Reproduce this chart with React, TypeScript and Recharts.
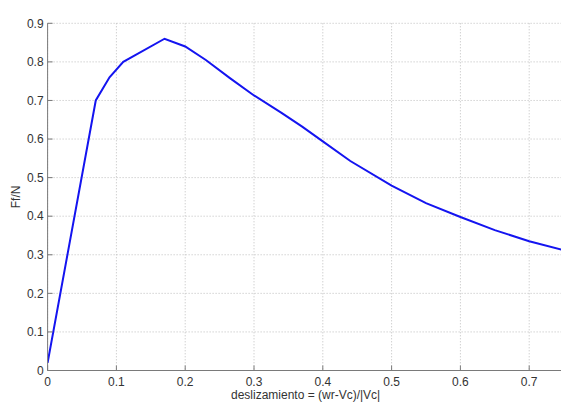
import React from 'react';
import { LineChart, Line, XAxis, YAxis, CartesianGrid, Label } from 'recharts';

const slip = [0, 0.07, 0.09, 0.11, 0.17, 0.2, 0.23, 0.265, 0.3, 0.34, 0.37, 0.4, 0.44, 0.5, 0.55, 0.6, 0.65, 0.7, 0.75];
const ffn = [0.02, 0.7, 0.76, 0.8, 0.86, 0.84, 0.805, 0.758, 0.713, 0.668, 0.632, 0.594, 0.543, 0.479, 0.434, 0.398, 0.364, 0.335, 0.312];
const xTicks = [0, 0.1, 0.2, 0.3, 0.4, 0.5, 0.6, 0.7];
const yTicks = [0, 0.1, 0.2, 0.3, 0.4, 0.5, 0.6, 0.7, 0.8, 0.9];
const title = 'Ff/N v.s. deslizamiento';
const xTitle = 'deslizamiento = (wr-Vc)/|Vc|';
const yTitle = 'Ff/N';

const data = slip.map((s, i) => ({ s, f: ffn[i] }));

const W = 564;
const H = 402;
const LEFT = 47.6;
const TOP = 23.3;
const BOTTOM_H = 31.5;
const AXIS_Y = H - BOTTOM_H;
const TEXT = '#333';
const AXIS = '#7a7a7a';
const FONT = 'Liberation Sans, Arial, sans-serif';

const YTick = (props: any) => {
  const { y, payload } = props;
  return (
    <g>
      <line x1={LEFT} x2={LEFT + 5} y1={y} y2={y} stroke={AXIS} />
      <text x={LEFT - 4} y={y} dy="0.35em" textAnchor="end" fontSize={12} fill={TEXT} fontFamily={FONT}>
        {String(payload.value)}
      </text>
    </g>
  );
};

const XTick = (props: any) => {
  const { x, payload } = props;
  return (
    <g>
      <line x1={x} x2={x} y1={AXIS_Y} y2={AXIS_Y - 5} stroke={AXIS} />
      <text x={x} y={AXIS_Y + 15} textAnchor="middle" fontSize={12} fill={TEXT} fontFamily={FONT}>
        {String(payload.value)}
      </text>
    </g>
  );
};

const TopTick = (props: any) => {
  const { x } = props;
  return <line x1={x} x2={x} y1={TOP} y2={TOP + 5} stroke={AXIS} />;
};

export default function App() {
  return (
    <div style={{ position: 'absolute', left: 0, top: 0, width: 561, height: 402, overflow: 'hidden', background: '#fff' }}>
      <LineChart width={W} height={H} data={data} margin={{ top: TOP, right: 0.4, bottom: 0, left: 0 }}>
        <CartesianGrid stroke="#bdbdbd" strokeDasharray="1 2" xAxisId="bottom" yAxisId="left" />
        <XAxis
          xAxisId="bottom"
          dataKey="s"
          type="number"
          domain={[0, 0.75]}
          ticks={xTicks}
          allowDataOverflow
          height={BOTTOM_H}
          stroke={AXIS}
          tickLine={false}
          tick={<XTick />}
          interval={0}
        >
          <Label
            content={(p: any) => {
              const vb = p.viewBox;
              return (
                <text x={vb.x + vb.width / 2} y={H - 3} textAnchor="middle" fontSize={12} fill={TEXT} fontFamily={FONT}>
                  {xTitle}
                </text>
              );
            }}
          />
        </XAxis>
        <XAxis
          xAxisId="top"
          orientation="top"
          dataKey="s"
          type="number"
          domain={[0, 0.75]}
          ticks={xTicks}
          allowDataOverflow
          height={0}
          stroke={AXIS}
          tickLine={false}
          tick={<TopTick />}
          interval={0}
        >
          <Label
            content={(p: any) => {
              const vb = p.viewBox;
              return (
                <text x={vb.x + vb.width / 2} y={16} textAnchor="middle" fontSize={12} fill={TEXT} fontFamily={FONT}>
                  {title}
                </text>
              );
            }}
          />
        </XAxis>
        <YAxis
          yAxisId="left"
          type="number"
          domain={[0, 0.9]}
          ticks={yTicks}
          width={LEFT}
          stroke={AXIS}
          tickLine={false}
          tick={<YTick />}
          interval={0}
        >
          <Label
            content={(p: any) => {
              const vb = p.viewBox;
              const cy = vb.y + vb.height / 2;
              return (
                <text x={16} y={cy} transform={`rotate(-90 16 ${cy})`} textAnchor="middle" dy="0.35em" fontSize={12} fill={TEXT} fontFamily={FONT}>
                  {yTitle}
                </text>
              );
            }}
          />
        </YAxis>
        <Line
          xAxisId="bottom"
          yAxisId="left"
          dataKey="f"
          type="linear"
          stroke="#1414f0"
          strokeWidth={2}
          dot={false}
          isAnimationActive={false}
        />
      </LineChart>
    </div>
  );
}
